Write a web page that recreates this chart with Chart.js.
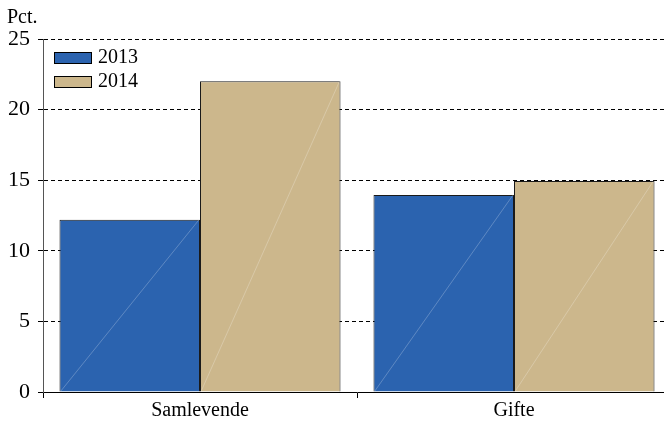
<!DOCTYPE html>
<html>
<head>
<meta charset="utf-8">
<script src="https://cdn.jsdelivr.net/npm/chart.js@4/dist/chart.umd.min.js"></script>
<style>
  html, body { margin: 0; padding: 0; background: #fff; overflow: hidden; }
  #wrap { width: 664px; height: 421px; overflow: hidden; }
  #box { width: 671px; height: 421px; }
</style>
</head>
<body>
<div id="wrap"><div id="box"><canvas id="chart"></canvas></div></div>
<script>
// data
const categories = ['Samlevende', 'Gifte'];
const years = ['2013', '2014'];
const values2013 = [12.2, 13.95];
const values2014 = [22.0, 14.95];
const yTicks = [0, 5, 10, 15, 20, 25];

const BLUE = '#2b63af';
const TAN = '#ccb78c';
const FONT = '"Liberation Serif", "Times New Roman", serif';

// "Pct." label, legend in the top-left corner and the faint diagonal in each bar
const decorations = {
    id: 'decorations',
    afterDatasetsDraw(chart) {
        const ctx = chart.ctx;
        ctx.save();
        chart.data.datasets.forEach((ds, i) => {
            chart.getDatasetMeta(i).data.forEach(bar => {
                const left = bar.x - bar.width / 2, right = bar.x + bar.width / 2;
                ctx.beginPath();
                ctx.moveTo(left + 1, bar.base);
                ctx.lineTo(right - 1, bar.y);
                ctx.strokeStyle = 'rgba(255,255,255,0.3)';
                ctx.lineWidth = 0.8;
                ctx.stroke();
            });
        });
        ctx.restore();
    },
    afterDraw(chart) {
        const ctx = chart.ctx;
        const area = chart.chartArea;
        ctx.save();
        ctx.fillStyle = '#000';
        ctx.font = '20px ' + FONT;
        ctx.textBaseline = 'alphabetic';
        ctx.fillText('Pct.', 7, 23);

        chart.data.datasets.forEach((ds, i) => {
            const y = area.top + 13 + i * 24;
            ctx.fillStyle = ds.backgroundColor;
            ctx.fillRect(area.left + 11, y, 37, 11);
            ctx.strokeStyle = '#000';
            ctx.lineWidth = 1;
            ctx.strokeRect(area.left + 11.5, y + 0.5, 37, 11);
            ctx.fillStyle = '#000';
            ctx.font = '20px ' + FONT;
            ctx.textBaseline = 'middle';
            ctx.fillText(ds.label, area.left + 55, y + 6);
        });
        ctx.restore();
    }
};

new Chart(document.getElementById('chart'), {
    type: 'bar',
    data: {
        labels: categories,
        datasets: [
            { label: years[0], data: values2013, backgroundColor: BLUE, borderColor: '#1a1a1a', borderWidth: 1 },
            { label: years[1], data: values2014, backgroundColor: TAN, borderColor: '#1a1a1a', borderWidth: 1 }
        ]
    },
    options: {
        responsive: true,
        maintainAspectRatio: false,
        animation: false,
        layout: { padding: { top: 39, left: 0, right: 0, bottom: 0 } },
        categoryPercentage: 0.895,
        barPercentage: 1.0,
        plugins: { legend: { display: false }, tooltip: { enabled: false } },
        scales: {
            x: {
                grid: { display: true, drawOnChartArea: false, drawTicks: true, tickLength: 6, color: '#000', offset: true },
                border: { display: true, color: '#000', width: 1 },
                ticks: { color: '#000', font: { family: FONT, size: 20 }, padding: 1 },
                afterFit: s => { s.height = 29; }
            },
            y: {
                min: 0,
                max: 25,
                afterBuildTicks: s => { s.ticks = yTicks.map(v => ({ value: v })); },
                grid: { color: '#000', lineWidth: 1, tickLength: 5, drawTicks: true },
                border: { display: true, color: '#555', width: 1, dash: [4, 3] },
                ticks: { color: '#000', font: { family: FONT, size: 22 }, padding: 8 },
                afterFit: s => { s.width = 43; }
            }
        }
    },
    plugins: [decorations]
});
</script>
</body>
</html>
